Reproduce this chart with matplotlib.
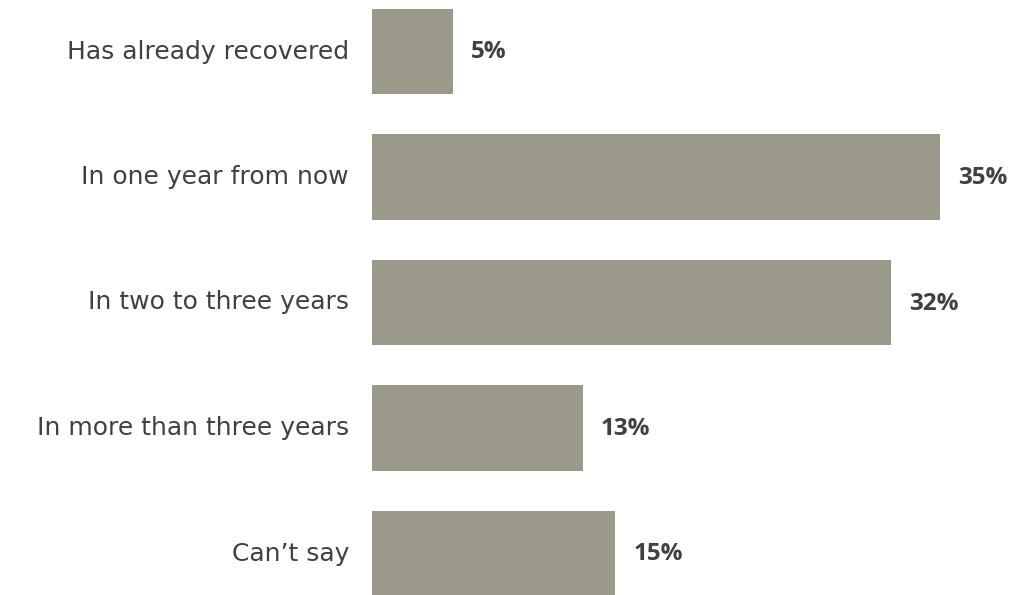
import matplotlib.pyplot as plt
from matplotlib.transforms import offset_copy

categories = ["Has already recovered", "In one year from now", "In two to three years",
              "In more than three years", "Can\u2019t say"]
values = [5, 35, 32, 13, 15]

bar_color = "#9a998a"
text_color = "#404040"

fig = plt.figure(figsize=(10.12, 5.95), dpi=100)
ax = fig.add_axes([372 / 1012, 0, 640 / 1012, 1])

ypos = list(range(len(categories)))
ax.barh(ypos, values, height=0.68, color=bar_color)

ax.set_xlim(0, 640 / 16.23)
ax.set_ylim(4 + 41.5 / 125.5, -51.5 / 125.5)

for s in ax.spines.values():
    s.set_visible(False)
ax.set_xticks([])
ax.set_yticks([])

lab_trans = offset_copy(ax.transData, fig=fig, x=-23, y=0, units="dots")
for y, cat in zip(ypos, categories):
    ax.text(0, y, cat, transform=lab_trans, ha="right", va="center",
            fontsize=18, family="DejaVu Sans", color=text_color)

val_trans = offset_copy(ax.transData, fig=fig, x=18, y=-1, units="dots")
for y, v in zip(ypos, values):
    ax.text(v, y, f"{v}%", transform=val_trans, ha="left", va="center",
            fontsize=17.5, family="Open Sans", fontweight="bold", color=text_color)

fig.savefig("out.png", dpi=100)
